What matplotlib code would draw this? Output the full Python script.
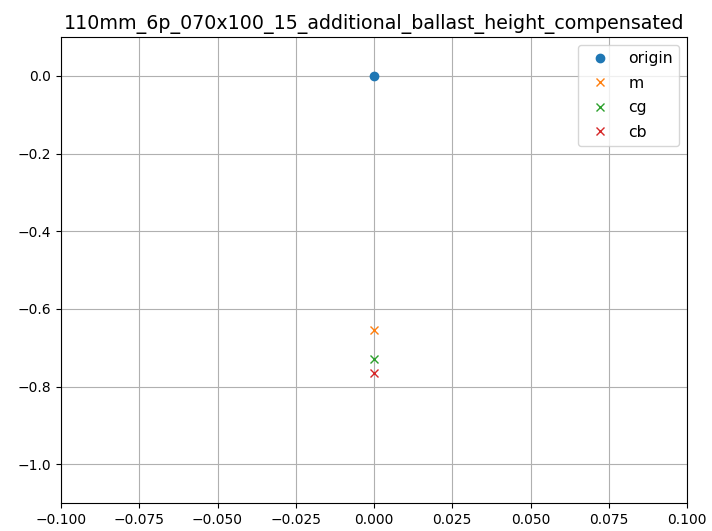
import matplotlib
matplotlib.use("Agg")
import matplotlib.pyplot as plt

title = "110mm_6p_070x100_15_additional_ballast_height_compensated"
labels = ["origin", "m", "cg", "cb"]
xs = [0.0, 0.0, 0.0, 0.0]
ys = [0.0, -0.655, -0.728, -0.764]
markers = ["o", "x", "x", "x"]

fig = plt.figure(figsize=(7.12, 5.31), dpi=100)
ax = fig.add_axes([0.0857, 0.0527, 0.8792, 0.8776])
for x, y, lab, mk in zip(xs, ys, labels, markers):
    ax.plot(x, y, mk, label=lab)
ax.set_xlim(-0.1, 0.1)
ax.set_ylim(-1.1, 0.1)
ax.grid(True)
ax.legend(loc="upper right", fontsize=11.3, labelspacing=0.61)
ax.set_title(title, fontsize=13.7)
fig.savefig("out.png", dpi=100)
